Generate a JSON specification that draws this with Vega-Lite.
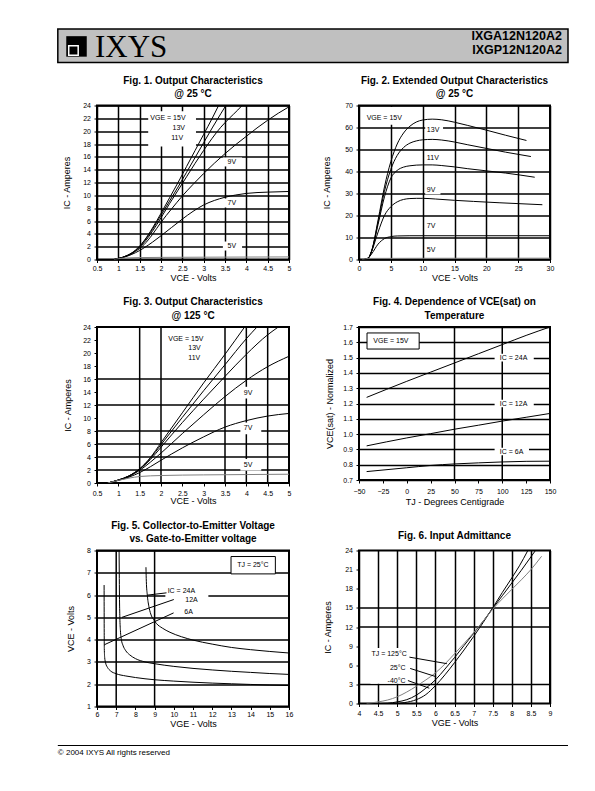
{
"$schema": "https://vega.github.io/schema/vega-lite/v6.json",
"background": "white",
"padding": {"left": 57, "top": 28, "right": 10, "bottom": 10},
"config": {
 "font": "Liberation Sans",
 "view": {"stroke": "black", "strokeWidth": 2},
 "axis": {"domain": false, "tickColor": "black", "tickSize": 3, "tickWidth": 1, "tickCount": 100, "labelFontSize": 7, "labelColor": "black", "titleFontSize": 9, "titleFontWeight": "normal", "titleColor": "black", "grid": false, "gridColor": "black", "gridWidth": 1.5, "gridOpacity": 1, "labelOverlap": false, "labelFlush": false, "labelBound": false},
 "axisX": {"labelPadding": 2, "titlePadding": 2},
 "axisY": {"labelPadding": 3.5, "minExtent": 16, "maxExtent": 16},
 "title": {"fontSize": 10, "fontWeight": "bold", "color": "black", "anchor": "middle", "lineHeight": 13.3, "baseline": "bottom", "offset": 2.3},
 "text": {"color": "black"}
},
"spacing": 15.5,
"vconcat": [
 {
  "spacing": 10.5,
  "vconcat": [
   {
    "width": 471, "height": 33.5,
    "view": {"stroke": null},
    "data": {"values": [{"brand": "IXYS", "parts": ["IXGA12N120A2", "IXGP12N120A2"]}]},
    "layer": [
     {"mark": {"type": "rect", "fill": "#c0c0c0", "stroke": "black", "strokeWidth": 1.5},
      "encoding": {"x": {"datum": -8.32, "type": "quantitative", "scale": {"domain": [0, 100]}, "axis": null}, "x2": {"datum": 100}, "y": {"datum": 0, "type": "quantitative", "scale": {"domain": [0, 100]}, "axis": null}, "y2": {"datum": 100}}},
     {"mark": {"type": "square", "filled": true, "color": "black", "size": 420, "opacity": 1},
      "encoding": {"x": {"datum": -4.35, "type": "quantitative", "scale": {"domain": [0, 100]}, "axis": null}, "y": {"datum": 48, "type": "quantitative", "scale": {"domain": [0, 100]}, "axis": null}}},
     {"mark": {"type": "square", "filled": false, "stroke": "white", "strokeWidth": 1.5, "size": 90, "opacity": 1},
      "encoding": {"x": {"datum": -5.0, "type": "quantitative", "scale": {"domain": [0, 100]}, "axis": null}, "y": {"datum": 36, "type": "quantitative", "scale": {"domain": [0, 100]}, "axis": null}}},
     {"mark": {"type": "text", "font": "Liberation Serif", "fontSize": 31, "align": "left", "baseline": "alphabetic"},
      "encoding": {"text": {"field": "brand"}, "x": {"datum": -0.42, "type": "quantitative", "scale": {"domain": [0, 100]}, "axis": null}, "y": {"datum": 17, "type": "quantitative", "scale": {"domain": [0, 100]}, "axis": null}}},
     {"mark": {"type": "text", "fontSize": 12.5, "fontWeight": "bold", "align": "right", "baseline": "alphabetic", "lineHeight": 13.8},
      "encoding": {"text": {"field": "parts"}, "x": {"datum": 98.7, "type": "quantitative", "scale": {"domain": [0, 100]}, "axis": null}, "y": {"datum": 67, "type": "quantitative", "scale": {"domain": [0, 100]}, "axis": null}}}
    ]
   },
   {
    "columns": 2,
    "spacing": {"row": 67.5, "column": 70},
    "bounds": "flush",
    "align": "each",
    "concat": [
     {
      "width": 192, "height": 154,
      "title": {"text": ["Fig. 1. Output Characteristics", "@ 25 °C"], "frame": "group"},
      "layer": [
       {"data": {"values": [{"x":1.7,"x2":2.82,"y":17.6,"y2":23.1},{"x":3.45,"x2":3.9,"y":14.5,"y2":15.9},{"x":3.45,"x2":3.9,"y":8.1,"y2":9.5},{"x":3.45,"x2":3.9,"y":1.4,"y2":2.8}]},
        "mark": {"type": "rect", "fill": "white"},
        "encoding": {
         "x": {"field": "x", "type": "quantitative", "scale": {"domain": [0.5, 5]}, "title": "VCE - Volts", "axis": {"values": [0.5,1,1.5,2,2.5,3,3.5,4,4.5,5], "format": ".1~f", "grid": true}},
         "x2": {"field": "x2"},
         "y": {"field": "y", "type": "quantitative", "scale": {"domain": [0, 24]}, "title": "IC - Amperes", "axis": {"values": [0,2,4,6,8,10,12,14,16,18,20,22,24], "format": "d", "grid": true, "titlePadding": 9.5}},
         "y2": {"field": "y2"}
        }},
       {"data": {"values": [
         {"s":"15V","x":0.9,"y":0},{"s":"15V","x":1.0,"y":0.15},{"s":"15V","x":1.2,"y":0.6},{"s":"15V","x":1.4,"y":1.45},{"s":"15V","x":1.6,"y":2.9},{"s":"15V","x":1.8,"y":4.9},{"s":"15V","x":2.0,"y":7.2},{"s":"15V","x":2.2,"y":9.6},{"s":"15V","x":2.4,"y":12.0},{"s":"15V","x":2.6,"y":14.5},{"s":"15V","x":2.8,"y":17.0},{"s":"15V","x":3.0,"y":19.5},{"s":"15V","x":3.2,"y":22.0},{"s":"15V","x":3.35,"y":24},
         {"s":"13V","x":0.9,"y":0},{"s":"13V","x":1.0,"y":0.15},{"s":"13V","x":1.2,"y":0.6},{"s":"13V","x":1.4,"y":1.4},{"s":"13V","x":1.6,"y":2.8},{"s":"13V","x":1.8,"y":4.7},{"s":"13V","x":2.0,"y":6.9},{"s":"13V","x":2.2,"y":9.1},{"s":"13V","x":2.4,"y":11.3},{"s":"13V","x":2.6,"y":13.6},{"s":"13V","x":2.8,"y":15.9},{"s":"13V","x":3.0,"y":18.2},{"s":"13V","x":3.2,"y":20.5},{"s":"13V","x":3.4,"y":22.7},{"s":"13V","x":3.52,"y":24},
         {"s":"11V","x":0.9,"y":0},{"s":"11V","x":1.0,"y":0.15},{"s":"11V","x":1.2,"y":0.58},{"s":"11V","x":1.4,"y":1.35},{"s":"11V","x":1.6,"y":2.6},{"s":"11V","x":1.8,"y":4.4},{"s":"11V","x":2.0,"y":6.5},{"s":"11V","x":2.2,"y":8.7},{"s":"11V","x":2.4,"y":10.8},{"s":"11V","x":2.6,"y":12.9},{"s":"11V","x":2.8,"y":15.0},{"s":"11V","x":3.0,"y":17.0},{"s":"11V","x":3.2,"y":18.9},{"s":"11V","x":3.4,"y":20.6},{"s":"11V","x":3.6,"y":22.0},{"s":"11V","x":3.8,"y":23.3},{"s":"11V","x":3.9,"y":24},
         {"s":"9V","x":0.9,"y":0},{"s":"9V","x":1.0,"y":0.15},{"s":"9V","x":1.2,"y":0.55},{"s":"9V","x":1.4,"y":1.25},{"s":"9V","x":1.6,"y":2.3},{"s":"9V","x":1.8,"y":3.9},{"s":"9V","x":2.0,"y":5.8},{"s":"9V","x":2.25,"y":7.9},{"s":"9V","x":2.5,"y":9.9},{"s":"9V","x":2.75,"y":11.7},{"s":"9V","x":3.0,"y":13.4},{"s":"9V","x":3.25,"y":15.0},{"s":"9V","x":3.5,"y":16.5},{"s":"9V","x":3.75,"y":17.9},{"s":"9V","x":4.0,"y":19.2},{"s":"9V","x":4.25,"y":20.5},{"s":"9V","x":4.5,"y":21.7},{"s":"9V","x":4.75,"y":22.8},{"s":"9V","x":5.0,"y":23.8},
         {"s":"7V","x":0.9,"y":0},{"s":"7V","x":1.0,"y":0.13},{"s":"7V","x":1.2,"y":0.5},{"s":"7V","x":1.4,"y":1.05},{"s":"7V","x":1.6,"y":1.8},{"s":"7V","x":1.8,"y":2.7},{"s":"7V","x":2.0,"y":3.7},{"s":"7V","x":2.25,"y":5.0},{"s":"7V","x":2.5,"y":6.3},{"s":"7V","x":2.75,"y":7.5},{"s":"7V","x":3.0,"y":8.5},{"s":"7V","x":3.25,"y":9.2},{"s":"7V","x":3.5,"y":9.7},{"s":"7V","x":3.75,"y":10.05},{"s":"7V","x":4.0,"y":10.3},{"s":"7V","x":4.5,"y":10.5},{"s":"7V","x":5.0,"y":10.6},
         {"s":"5V","x":0.9,"y":0},{"s":"5V","x":1.0,"y":0.12},{"s":"5V","x":1.2,"y":0.25},{"s":"5V","x":1.5,"y":0.3},{"s":"5V","x":2.0,"y":0.33},{"s":"5V","x":3.0,"y":0.36},{"s":"5V","x":4.0,"y":0.38},{"s":"5V","x":5.0,"y":0.4}
        ]},
        "mark": {"type": "line", "interpolate": "monotone", "clip": true, "strokeWidth": 1},
        "encoding": {
         "x": {"field": "x", "type": "quantitative", "scale": {"domain": [0.5, 5]}, "title": "VCE - Volts"},
         "y": {"field": "y", "type": "quantitative", "scale": {"domain": [0, 24]}, "title": "IC - Amperes"},
         "color": {"field": "s", "type": "nominal", "scale": {"domain": ["15V","13V","11V","9V","7V","5V"], "range": ["black","black","black","black","black","#808080"]}, "legend": null}
        }},
       {"data": {"values": [{"t":"VGE = 15V","x":1.75,"y":22.0},{"t":"13V","x":2.27,"y":20.5},{"t":"11V","x":2.24,"y":19.0},{"t":"9V","x":3.56,"y":15.2},{"t":"7V","x":3.56,"y":8.8},{"t":"5V","x":3.56,"y":2.1}]},
        "mark": {"type": "text", "align": "left", "baseline": "middle", "fontSize": 7},
        "encoding": {
         "x": {"field": "x", "type": "quantitative", "scale": {"domain": [0.5, 5]}, "title": "VCE - Volts"},
         "y": {"field": "y", "type": "quantitative", "scale": {"domain": [0, 24]}, "title": "IC - Amperes"},
         "text": {"field": "t"}
        }}
      ]
     },
     {
      "width": 191, "height": 154,
      "title": {"text": ["Fig. 2. Extended Output Characteristics", "@ 25 °C"], "frame": "group"},
      "layer": [
       {"data": {"values": [{"x":0.9,"x2":7.5,"y":61.3,"y2":69.3},{"x":10.4,"x2":13.2,"y":56.8,"y2":61.2},{"x":10.4,"x2":13.2,"y":44.2,"y2":48.2},{"x":10.4,"x2":12.8,"y":29.6,"y2":33.8},{"x":10.4,"x2":12.8,"y":13.3,"y2":17.1},{"x":10.4,"x2":12.8,"y":2.4,"y2":6.4}]},
        "mark": {"type": "rect", "fill": "white"},
        "encoding": {
         "x": {"field": "x", "type": "quantitative", "scale": {"domain": [0, 30]}, "title": "VCE - Volts", "axis": {"values": [0,5,10,15,20,25,30], "format": "d", "grid": true}},
         "x2": {"field": "x2"},
         "y": {"field": "y", "type": "quantitative", "scale": {"domain": [0, 70]}, "title": "IC - Amperes", "axis": {"values": [0,10,20,30,40,50,60,70], "format": "d", "grid": true, "titlePadding": 11.5}},
         "y2": {"field": "y2"}
        }},
       {"data": {"values": [
         {"s":"15V","x":0.8,"y":0},{"s":"15V","x":1.5,"y":0.8},{"s":"15V","x":2,"y":4},{"s":"15V","x":3,"y":18},{"s":"15V","x":4,"y":33},{"s":"15V","x":5,"y":44.5},{"s":"15V","x":6,"y":52.5},{"s":"15V","x":7,"y":57.5},{"s":"15V","x":8,"y":60.6},{"s":"15V","x":9,"y":62.5},{"s":"15V","x":10,"y":63.4},{"s":"15V","x":11.5,"y":63.8},{"s":"15V","x":13,"y":63.5},{"s":"15V","x":15,"y":62.4},{"s":"15V","x":17,"y":61},{"s":"15V","x":20,"y":58.8},{"s":"15V","x":23,"y":56.5},{"s":"15V","x":26.3,"y":54.1},
         {"s":"13V","x":0.8,"y":0},{"s":"13V","x":1.5,"y":0.8},{"s":"13V","x":2,"y":4},{"s":"13V","x":3,"y":17},{"s":"13V","x":4,"y":31},{"s":"13V","x":5,"y":41},{"s":"13V","x":6,"y":47.3},{"s":"13V","x":7,"y":50.9},{"s":"13V","x":8,"y":52.9},{"s":"13V","x":9,"y":53.9},{"s":"13V","x":10,"y":54.4},{"s":"13V","x":11.5,"y":54.6},{"s":"13V","x":13,"y":54.3},{"s":"13V","x":15,"y":53.4},{"s":"13V","x":17,"y":52.2},{"s":"13V","x":20,"y":50.5},{"s":"13V","x":23,"y":48.8},{"s":"13V","x":27,"y":46.8},
         {"s":"11V","x":0.8,"y":0},{"s":"11V","x":1.5,"y":0.8},{"s":"11V","x":2,"y":4},{"s":"11V","x":3,"y":16},{"s":"11V","x":4,"y":28.5},{"s":"11V","x":5,"y":37},{"s":"11V","x":6,"y":40.5},{"s":"11V","x":7,"y":42},{"s":"11V","x":8,"y":42.6},{"s":"11V","x":9,"y":42.9},{"s":"11V","x":10,"y":43},{"s":"11V","x":11.5,"y":43},{"s":"11V","x":13,"y":42.7},{"s":"11V","x":15,"y":42.1},{"s":"11V","x":17,"y":41.3},{"s":"11V","x":20,"y":40.3},{"s":"11V","x":23,"y":39.3},{"s":"11V","x":27.6,"y":37.4},
         {"s":"9V","x":0.8,"y":0},{"s":"9V","x":1.5,"y":0.8},{"s":"9V","x":2,"y":3.8},{"s":"9V","x":3,"y":12.5},{"s":"9V","x":4,"y":20},{"s":"9V","x":5,"y":24},{"s":"9V","x":6,"y":26.2},{"s":"9V","x":7,"y":27.3},{"s":"9V","x":8,"y":27.7},{"s":"9V","x":9,"y":27.8},{"s":"9V","x":10,"y":27.8},{"s":"9V","x":12,"y":27.5},{"s":"9V","x":15,"y":26.9},{"s":"9V","x":18,"y":26.4},{"s":"9V","x":22,"y":25.8},{"s":"9V","x":25,"y":25.4},{"s":"9V","x":28.8,"y":24.9},
         {"s":"7V","x":0.8,"y":0},{"s":"7V","x":1.5,"y":0.8},{"s":"7V","x":2,"y":2.6},{"s":"7V","x":3,"y":7},{"s":"7V","x":4,"y":9.5},{"s":"7V","x":5,"y":10.4},{"s":"7V","x":6,"y":10.7},{"s":"7V","x":8,"y":10.8},{"s":"7V","x":15,"y":10.8},{"s":"7V","x":30,"y":10.8},
         {"s":"5V","x":0.5,"y":0},{"s":"5V","x":1,"y":0.3},{"s":"5V","x":2,"y":0.5},{"s":"5V","x":10,"y":0.55},{"s":"5V","x":30,"y":0.6}
        ]},
        "mark": {"type": "line", "interpolate": "monotone", "clip": true, "strokeWidth": 1},
        "encoding": {
         "x": {"field": "x", "type": "quantitative", "scale": {"domain": [0, 30]}, "title": "VCE - Volts"},
         "y": {"field": "y", "type": "quantitative", "scale": {"domain": [0, 70]}, "title": "IC - Amperes"},
         "color": {"field": "s", "type": "nominal", "scale": {"domain": ["15V","13V","11V","9V","7V","5V"], "range": ["black","black","black","black","black","black"]}, "legend": null}
        }},
       {"data": {"values": [{"t":"VGE = 15V","x":1.2,"y":64.5},{"t":"13V","x":10.66,"y":58.9},{"t":"11V","x":10.66,"y":46.2},{"t":"9V","x":10.66,"y":31.7},{"t":"7V","x":10.66,"y":15.2},{"t":"5V","x":10.66,"y":4.4}]},
        "mark": {"type": "text", "align": "left", "baseline": "middle", "fontSize": 7},
        "encoding": {
         "x": {"field": "x", "type": "quantitative", "scale": {"domain": [0, 30]}, "title": "VCE - Volts"},
         "y": {"field": "y", "type": "quantitative", "scale": {"domain": [0, 70]}, "title": "IC - Amperes"},
         "text": {"field": "t"}
        }}
      ]
     },
     {
      "width": 192, "height": 156,
      "title": {"text": ["Fig. 3. Output Characteristics", "@ 125 °C"], "frame": "group"},
      "layer": [
       {"data": {"values": [{"x":1.5},{"x":2},{"x":3.5},{"x":4},{"x":4.5}]},
        "mark": {"type": "rule", "color": "black", "strokeWidth": 1.5},
        "encoding": {
         "x": {"field": "x", "type": "quantitative", "scale": {"domain": [0.5, 5]}, "title": "VCE - Volts", "axis": {"values": [0.5,1,1.5,2,2.5,3,3.5,4,4.5,5], "format": ".1~f", "labelPadding": 3.5, "titlePadding": 0}}
        }},
       {"data": {"values": [{"y":2},{"y":4},{"y":6},{"y":8},{"y":12},{"y":16}]},
        "mark": {"type": "rule", "color": "black", "strokeWidth": 1.5},
        "encoding": {
         "y": {"field": "y", "type": "quantitative", "scale": {"domain": [0, 24]}, "title": "IC - Amperes", "axis": {"values": [0,2,4,6,8,10,12,14,16,18,20,22,24], "format": "d", "titlePadding": 9}}
        }},
       {"data": {"values": [{"x":2.12,"x2":3.3,"y":18.3,"y2":23.2},{"x":3.86,"x2":4.35,"y":13.0,"y2":14.8},{"x":3.86,"x2":4.35,"y":7.5,"y2":9.3},{"x":3.86,"x2":4.35,"y":1.9,"y2":3.7}]},
        "mark": {"type": "rect", "fill": "white"},
        "encoding": {
         "x": {"field": "x", "type": "quantitative", "scale": {"domain": [0.5, 5]}, "title": "VCE - Volts"},
         "x2": {"field": "x2"},
         "y": {"field": "y", "type": "quantitative", "scale": {"domain": [0, 24]}, "title": "IC - Amperes"},
         "y2": {"field": "y2"}
        }},
       {"data": {"values": [
         {"s":"15V","x":0.75,"y":0},{"s":"15V","x":1,"y":0.45},{"s":"15V","x":1.25,"y":1.1},{"s":"15V","x":1.5,"y":2.2},{"s":"15V","x":1.75,"y":3.9},{"s":"15V","x":2,"y":6.2},{"s":"15V","x":2.5,"y":10.8},{"s":"15V","x":3,"y":15.4},{"s":"15V","x":3.5,"y":19.8},{"s":"15V","x":3.96,"y":24},
         {"s":"13V","x":0.75,"y":0},{"s":"13V","x":1,"y":0.45},{"s":"13V","x":1.25,"y":1.1},{"s":"13V","x":1.5,"y":2.15},{"s":"13V","x":1.75,"y":3.8},{"s":"13V","x":2,"y":5.9},{"s":"13V","x":2.5,"y":10.1},{"s":"13V","x":3,"y":14.2},{"s":"13V","x":3.5,"y":18.2},{"s":"13V","x":4,"y":22.2},{"s":"13V","x":4.25,"y":24},
         {"s":"11V","x":0.75,"y":0},{"s":"11V","x":1,"y":0.45},{"s":"11V","x":1.25,"y":1.05},{"s":"11V","x":1.5,"y":2.1},{"s":"11V","x":1.75,"y":3.6},{"s":"11V","x":2,"y":5.5},{"s":"11V","x":2.5,"y":9.3},{"s":"11V","x":3,"y":12.9},{"s":"11V","x":3.5,"y":16.4},{"s":"11V","x":4,"y":19.8},{"s":"11V","x":4.5,"y":22.8},{"s":"11V","x":4.75,"y":24},
         {"s":"9V","x":0.75,"y":0},{"s":"9V","x":1,"y":0.45},{"s":"9V","x":1.25,"y":1.0},{"s":"9V","x":1.5,"y":1.95},{"s":"9V","x":1.75,"y":3.2},{"s":"9V","x":2,"y":4.6},{"s":"9V","x":2.5,"y":7.6},{"s":"9V","x":3,"y":10.5},{"s":"9V","x":3.5,"y":13.3},{"s":"9V","x":4,"y":15.8},{"s":"9V","x":4.5,"y":17.9},{"s":"9V","x":5,"y":19.5},
         {"s":"7V","x":0.75,"y":0},{"s":"7V","x":1,"y":0.4},{"s":"7V","x":1.25,"y":0.9},{"s":"7V","x":1.5,"y":1.6},{"s":"7V","x":1.75,"y":2.5},{"s":"7V","x":2,"y":3.5},{"s":"7V","x":2.5,"y":5.4},{"s":"7V","x":3,"y":7.1},{"s":"7V","x":3.5,"y":8.6},{"s":"7V","x":4,"y":9.6},{"s":"7V","x":4.5,"y":10.3},{"s":"7V","x":5,"y":10.7},
         {"s":"5V","x":0.75,"y":0},{"s":"5V","x":1,"y":0.4},{"s":"5V","x":1.25,"y":0.75},{"s":"5V","x":1.5,"y":1.0},{"s":"5V","x":2,"y":1.15},{"s":"5V","x":3,"y":1.25},{"s":"5V","x":4,"y":1.3},{"s":"5V","x":5,"y":1.35}
        ]},
        "mark": {"type": "line", "interpolate": "monotone", "clip": true, "strokeWidth": 1},
        "encoding": {
         "x": {"field": "x", "type": "quantitative", "scale": {"domain": [0.5, 5]}, "title": "VCE - Volts"},
         "y": {"field": "y", "type": "quantitative", "scale": {"domain": [0, 24]}, "title": "IC - Amperes"},
         "color": {"field": "s", "type": "nominal", "scale": {"domain": ["15V","13V","11V","9V","7V","5V"], "range": ["black","black","black","black","black","#808080"]}, "legend": null}
        }},
       {"data": {"values": [{"t":"VGE = 15V","x":2.17,"y":22.2},{"t":"13V","x":2.64,"y":20.7},{"t":"11V","x":2.64,"y":19.2},{"t":"9V","x":3.94,"y":13.9},{"t":"7V","x":3.94,"y":8.4},{"t":"5V","x":3.94,"y":2.8}]},
        "mark": {"type": "text", "align": "left", "baseline": "middle", "fontSize": 7},
        "encoding": {
         "x": {"field": "x", "type": "quantitative", "scale": {"domain": [0.5, 5]}, "title": "VCE - Volts"},
         "y": {"field": "y", "type": "quantitative", "scale": {"domain": [0, 24]}, "title": "IC - Amperes"},
         "text": {"field": "t"}
        }}
      ]
     },
     {
      "width": 191, "height": 153,
      "title": {"text": ["Fig. 4. Dependence of VCE(sat) on", "Temperature"], "frame": "group"},
      "layer": [
       {"data": {"values": [{"x":50},{"x":100}]},
        "mark": {"type": "rule", "color": "black", "strokeWidth": 1.5},
        "encoding": {
         "x": {"field": "x", "type": "quantitative", "scale": {"domain": [-50, 150]}, "title": "TJ - Degrees Centigrade", "axis": {"values": [-50,-25,0,25,50,75,100,125,150], "format": "d", "labelPadding": 4, "titlePadding": 3}}
        }},
       {"data": {"values": [{"x":92,"x2":133,"y":1.475,"y2":1.525},{"x":92,"x2":133,"y":1.175,"y2":1.225},{"x":92,"x2":128,"y":0.862,"y2":0.91}]},
        "mark": {"type": "rect", "fill": "white"},
        "encoding": {
         "x": {"field": "x", "type": "quantitative", "scale": {"domain": [-50, 150]}, "title": "TJ - Degrees Centigrade"},
         "x2": {"field": "x2"},
         "y": {"field": "y", "type": "quantitative", "scale": {"domain": [0.7, 1.7]}, "title": "VCE(sat) - Normalized", "axis": {"values": [0.7,0.8,0.9,1.0,1.1,1.2,1.3,1.4,1.5,1.6,1.7], "format": ".1f", "grid": true, "titlePadding": 9}},
         "y2": {"field": "y2"}
        }},
       {"data": {"values": [{"x":-41.6,"x2":13,"y":1.556,"y2":1.661}]},
        "mark": {"type": "rect", "fill": "white", "stroke": "black", "strokeWidth": 1},
        "encoding": {
         "x": {"field": "x", "type": "quantitative", "scale": {"domain": [-50, 150]}, "title": "TJ - Degrees Centigrade"},
         "x2": {"field": "x2"},
         "y": {"field": "y", "type": "quantitative", "scale": {"domain": [0.7, 1.7]}, "title": "VCE(sat) - Normalized"},
         "y2": {"field": "y2"}
        }},
       {"data": {"values": [
         {"s":"24A","x":-42,"y":1.24},{"s":"24A","x":0,"y":1.345},{"s":"24A","x":25,"y":1.405},{"s":"24A","x":50,"y":1.465},{"s":"24A","x":75,"y":1.525},{"s":"24A","x":100,"y":1.585},{"s":"24A","x":125,"y":1.645},{"s":"24A","x":150,"y":1.70},
         {"s":"12A","x":-42,"y":0.923},{"s":"12A","x":0,"y":0.975},{"s":"12A","x":25,"y":1.003},{"s":"12A","x":50,"y":1.032},{"s":"12A","x":75,"y":1.058},{"s":"12A","x":100,"y":1.085},{"s":"12A","x":125,"y":1.11},{"s":"12A","x":150,"y":1.135},
         {"s":"6A","x":-42,"y":0.755},{"s":"6A","x":0,"y":0.78},{"s":"6A","x":25,"y":0.795},{"s":"6A","x":50,"y":0.805},{"s":"6A","x":75,"y":0.812},{"s":"6A","x":100,"y":0.818},{"s":"6A","x":125,"y":0.822},{"s":"6A","x":150,"y":0.823}
        ]},
        "mark": {"type": "line", "interpolate": "monotone", "clip": true, "strokeWidth": 1},
        "encoding": {
         "x": {"field": "x", "type": "quantitative", "scale": {"domain": [-50, 150]}, "title": "TJ - Degrees Centigrade"},
         "y": {"field": "y", "type": "quantitative", "scale": {"domain": [0.7, 1.7]}, "title": "VCE(sat) - Normalized"},
         "color": {"field": "s", "type": "nominal", "scale": {"domain": ["24A","12A","6A"], "range": ["black","black","#404040"]}, "legend": null}
        }},
       {"data": {"values": [{"t":"VGE = 15V","x":-35,"y":1.608},{"t":"IC = 24A","x":97.5,"y":1.5},{"t":"IC = 12A","x":97.5,"y":1.2},{"t":"IC = 6A","x":97.5,"y":0.885}]},
        "mark": {"type": "text", "align": "left", "baseline": "middle", "fontSize": 7},
        "encoding": {
         "x": {"field": "x", "type": "quantitative", "scale": {"domain": [-50, 150]}, "title": "TJ - Degrees Centigrade"},
         "y": {"field": "y", "type": "quantitative", "scale": {"domain": [0.7, 1.7]}, "title": "VCE(sat) - Normalized"},
         "text": {"field": "t"}
        }}
      ]
     },
     {
      "width": 192, "height": 156,
      "title": {"text": ["Fig. 5. Collector-to-Emitter Voltage", "vs. Gate-to-Emitter voltage"], "frame": "group"},
      "layer": [
       {"data": {"values": [{"x":7},{"x":9}]},
        "mark": {"type": "rule", "color": "black", "strokeWidth": 1.5},
        "encoding": {
         "x": {"field": "x", "type": "quantitative", "scale": {"domain": [6, 16]}, "title": "VGE - Volts", "axis": {"values": [6,7,8,9,10,11,12,13,14,15,16], "format": "d", "labelPadding": 1, "titlePadding": 1.5}}
        }},
       {"data": {"values": [{"x":9.56,"x2":11.8,"y":5.08,"y2":6.4}]},
        "mark": {"type": "rect", "fill": "white"},
        "encoding": {
         "x": {"field": "x", "type": "quantitative", "scale": {"domain": [6, 16]}, "title": "VGE - Volts"},
         "x2": {"field": "x2"},
         "y": {"field": "y", "type": "quantitative", "scale": {"domain": [1, 8]}, "title": "VCE - Volts", "axis": {"values": [1,2,3,4,5,6,7,8], "format": "d", "grid": true, "titlePadding": 6}},
         "y2": {"field": "y2"}
        }},
       {"data": {"values": [{"x":12.98,"x2":15.29,"y":6.95,"y2":7.73}]},
        "mark": {"type": "rect", "fill": "white", "stroke": "black", "strokeWidth": 1},
        "encoding": {
         "x": {"field": "x", "type": "quantitative", "scale": {"domain": [6, 16]}, "title": "VGE - Volts"},
         "x2": {"field": "x2"},
         "y": {"field": "y", "type": "quantitative", "scale": {"domain": [1, 8]}, "title": "VCE - Volts"},
         "y2": {"field": "y2"}
        }},
       {"data": {"values": [
         {"s":"6A","x":6.37,"y":6.45},{"s":"6A","x":6.372,"y":5.5},{"s":"6A","x":6.375,"y":4.5},{"s":"6A","x":6.38,"y":3.6},{"s":"6A","x":6.4,"y":3.2},{"s":"6A","x":6.45,"y":2.95},{"s":"6A","x":6.55,"y":2.75},{"s":"6A","x":6.7,"y":2.6},{"s":"6A","x":7.0,"y":2.47},{"s":"6A","x":7.5,"y":2.37},{"s":"6A","x":8,"y":2.3},{"s":"6A","x":9,"y":2.2},{"s":"6A","x":10,"y":2.14},{"s":"6A","x":11,"y":2.09},{"s":"6A","x":12,"y":2.05},{"s":"6A","x":13,"y":2.02},{"s":"6A","x":14,"y":1.99},{"s":"6A","x":15,"y":1.96},{"s":"6A","x":16,"y":1.94},
         {"s":"12A","x":7.15,"y":8.0},{"s":"12A","x":7.16,"y":7.0},{"s":"12A","x":7.17,"y":6.0},{"s":"12A","x":7.19,"y":5.0},{"s":"12A","x":7.22,"y":4.4},{"s":"12A","x":7.27,"y":4.0},{"s":"12A","x":7.35,"y":3.75},{"s":"12A","x":7.5,"y":3.5},{"s":"12A","x":7.7,"y":3.32},{"s":"12A","x":8,"y":3.15},{"s":"12A","x":8.5,"y":3.0},{"s":"12A","x":9,"y":2.92},{"s":"12A","x":10,"y":2.8},{"s":"12A","x":11,"y":2.71},{"s":"12A","x":12,"y":2.64},{"s":"12A","x":13,"y":2.58},{"s":"12A","x":14,"y":2.53},{"s":"12A","x":15,"y":2.48},{"s":"12A","x":16,"y":2.44},
         {"s":"24A","x":8.55,"y":7.25},{"s":"24A","x":8.57,"y":6.6},{"s":"24A","x":8.62,"y":6.0},{"s":"24A","x":8.7,"y":5.5},{"s":"24A","x":8.8,"y":5.15},{"s":"24A","x":8.95,"y":4.9},{"s":"24A","x":9.1,"y":4.72},{"s":"24A","x":9.4,"y":4.52},{"s":"24A","x":9.8,"y":4.33},{"s":"24A","x":10.4,"y":4.13},{"s":"24A","x":11,"y":3.98},{"s":"24A","x":12,"y":3.8},{"s":"24A","x":13,"y":3.65},{"s":"24A","x":14,"y":3.55},{"s":"24A","x":15,"y":3.47},{"s":"24A","x":16,"y":3.4}
        ]},
        "mark": {"type": "line", "interpolate": "monotone", "clip": true, "strokeWidth": 1},
        "encoding": {
         "x": {"field": "x", "type": "quantitative", "scale": {"domain": [6, 16]}, "title": "VGE - Volts"},
         "y": {"field": "y", "type": "quantitative", "scale": {"domain": [1, 8]}, "title": "VCE - Volts"},
         "color": {"field": "s", "type": "nominal", "scale": {"domain": ["24A","12A","6A"], "range": ["black","black","black"]}, "legend": null}
        }},
       {"data": {"values": [{"x":8.65,"y":6.0,"x2":9.62,"y2":6.1},{"x":7.3,"y":5.0,"x2":10.0,"y2":5.8},{"x":6.38,"y":3.77,"x2":9.99,"y2":5.2}]},
        "mark": {"type": "rule", "color": "black", "strokeWidth": 1},
        "encoding": {
         "x": {"field": "x", "type": "quantitative", "scale": {"domain": [6, 16]}, "title": "VGE - Volts"},
         "x2": {"field": "x2"},
         "y": {"field": "y", "type": "quantitative", "scale": {"domain": [1, 8]}, "title": "VCE - Volts"},
         "y2": {"field": "y2"}
        }},
       {"data": {"values": [{"t":"IC = 24A","x":9.68,"y":6.18},{"t":"12A","x":10.6,"y":5.76},{"t":"6A","x":10.55,"y":5.26},{"t":"TJ = 25°C","x":13.3,"y":7.35}]},
        "mark": {"type": "text", "align": "left", "baseline": "middle", "fontSize": 7},
        "encoding": {
         "x": {"field": "x", "type": "quantitative", "scale": {"domain": [6, 16]}, "title": "VGE - Volts"},
         "y": {"field": "y", "type": "quantitative", "scale": {"domain": [1, 8]}, "title": "VCE - Volts"},
         "text": {"field": "t"}
        }}
      ]
     },
     {
      "width": 191, "height": 153,
      "title": {"text": "Fig. 6. Input Admittance", "offset": 5.3, "frame": "group"},
      "layer": [
       {"data": {"values": [{"y":3},{"y":12},{"y":15}]},
        "mark": {"type": "rule", "color": "black", "strokeWidth": 1.5},
        "encoding": {
         "y": {"field": "y", "type": "quantitative", "scale": {"domain": [0, 24]}, "title": "IC - Amperes", "axis": {"values": [0,3,6,9,12,15,18,21,24], "format": "d", "titlePadding": 11}}
        }},
       {"data": {"values": [{"x":4.3,"x2":5.32,"y":3.1,"y2":8.7}]},
        "mark": {"type": "rect", "fill": "white"},
        "encoding": {
         "x": {"field": "x", "type": "quantitative", "scale": {"domain": [4, 9]}, "title": "VGE - Volts", "axis": {"values": [4,4.5,5,5.5,6,6.5,7,7.5,8,8.5,9], "format": ".1~f", "grid": true, "labelPadding": 3, "titlePadding": 2}},
         "x2": {"field": "x2"},
         "y": {"field": "y", "type": "quantitative", "scale": {"domain": [0, 24]}, "title": "IC - Amperes"},
         "y2": {"field": "y2"}
        }},
       {"data": {"values": [
         {"s":"-40°C","x":4.9,"y":0},{"s":"-40°C","x":5.2,"y":0.15},{"s":"-40°C","x":5.5,"y":0.6},{"s":"-40°C","x":5.75,"y":1.4},{"s":"-40°C","x":6,"y":2.8},{"s":"-40°C","x":6.25,"y":4.5},{"s":"-40°C","x":6.5,"y":6.4},{"s":"-40°C","x":6.75,"y":8.4},{"s":"-40°C","x":7,"y":10.5},{"s":"-40°C","x":7.25,"y":12.7},{"s":"-40°C","x":7.5,"y":15},{"s":"-40°C","x":7.75,"y":17.4},{"s":"-40°C","x":8,"y":19.7},{"s":"-40°C","x":8.2,"y":21.6},{"s":"-40°C","x":8.42,"y":24},
         {"s":"25°C","x":4.5,"y":0},{"s":"25°C","x":4.75,"y":0.05},{"s":"25°C","x":5,"y":0.25},{"s":"25°C","x":5.25,"y":0.6},{"s":"25°C","x":5.5,"y":1.3},{"s":"25°C","x":5.75,"y":2.4},{"s":"25°C","x":6,"y":3.7},{"s":"25°C","x":6.25,"y":5.4},{"s":"25°C","x":6.5,"y":7.2},{"s":"25°C","x":6.75,"y":9.1},{"s":"25°C","x":7,"y":11.0},{"s":"25°C","x":7.25,"y":12.9},{"s":"25°C","x":7.5,"y":14.9},{"s":"25°C","x":7.75,"y":16.9},{"s":"25°C","x":8,"y":18.9},{"s":"25°C","x":8.25,"y":20.9},{"s":"25°C","x":8.5,"y":23.0},{"s":"25°C","x":8.62,"y":24},
         {"s":"125°C","x":4.2,"y":0},{"s":"125°C","x":4.5,"y":0.25},{"s":"125°C","x":4.75,"y":0.55},{"s":"125°C","x":5,"y":1.05},{"s":"125°C","x":5.25,"y":1.8},{"s":"125°C","x":5.5,"y":2.7},{"s":"125°C","x":5.75,"y":3.7},{"s":"125°C","x":6,"y":4.8},{"s":"125°C","x":6.25,"y":6.2},{"s":"125°C","x":6.5,"y":7.8},{"s":"125°C","x":6.75,"y":9.4},{"s":"125°C","x":7,"y":11.1},{"s":"125°C","x":7.25,"y":12.9},{"s":"125°C","x":7.5,"y":14.8},{"s":"125°C","x":7.75,"y":16.4},{"s":"125°C","x":8,"y":17.9},{"s":"125°C","x":8.25,"y":19.4},{"s":"125°C","x":8.5,"y":21.0},{"s":"125°C","x":8.78,"y":23.1}
        ]},
        "mark": {"type": "line", "interpolate": "monotone", "clip": true, "strokeWidth": 1},
        "encoding": {
         "x": {"field": "x", "type": "quantitative", "scale": {"domain": [4, 9]}, "title": "VGE - Volts"},
         "y": {"field": "y", "type": "quantitative", "scale": {"domain": [0, 24]}, "title": "IC - Amperes"},
         "color": {"field": "s", "type": "nominal", "scale": {"domain": ["-40°C","25°C","125°C"], "range": ["black","black","black"]}, "legend": null}
        }},
       {"data": {"values": [{"x":5.32,"y":7.27,"x2":6.3,"y2":6.25},{"x":5.34,"y":5.5,"x2":6.02,"y2":4.2},{"x":5.28,"y":3.6,"x2":5.84,"y2":2.4}]},
        "mark": {"type": "rule", "color": "black", "strokeWidth": 1},
        "encoding": {
         "x": {"field": "x", "type": "quantitative", "scale": {"domain": [4, 9]}, "title": "VGE - Volts"},
         "x2": {"field": "x2"},
         "y": {"field": "y", "type": "quantitative", "scale": {"domain": [0, 24]}, "title": "IC - Amperes"},
         "y2": {"field": "y2"}
        }},
       {"data": {"values": [{"t":"TJ = 125°C","x":5.25,"y":7.8},{"t":"25°C","x":5.22,"y":5.5},{"t":"-40°C","x":5.22,"y":3.55}]},
        "mark": {"type": "text", "align": "right", "baseline": "middle", "fontSize": 7},
        "encoding": {
         "x": {"field": "x", "type": "quantitative", "scale": {"domain": [4, 9]}, "title": "VGE - Volts"},
         "y": {"field": "y", "type": "quantitative", "scale": {"domain": [0, 24]}, "title": "IC - Amperes"},
         "text": {"field": "t"}
        }}
      ]
     }
    ]
   }
  ]
 },
 {
  "width": 471, "height": 10,
  "view": {"stroke": null},
  "data": {"values": [{"note": "© 2004 IXYS All rights reserved"}]},
  "layer": [
   {"mark": {"type": "rule", "color": "black", "strokeWidth": 1.2},
    "encoding": {"x": {"datum": -8.32, "type": "quantitative", "scale": {"domain": [0, 100]}, "axis": null}, "x2": {"datum": 100}, "y": {"datum": 100, "type": "quantitative", "scale": {"domain": [0, 100]}, "axis": null}}},
   {"mark": {"type": "text", "align": "left", "baseline": "top", "fontSize": 8, "dy": 3},
    "encoding": {"text": {"field": "note"}, "x": {"datum": -8.32, "type": "quantitative", "scale": {"domain": [0, 100]}, "axis": null}, "y": {"datum": 100, "type": "quantitative", "scale": {"domain": [0, 100]}, "axis": null}}}
  ]
 }
]
}
